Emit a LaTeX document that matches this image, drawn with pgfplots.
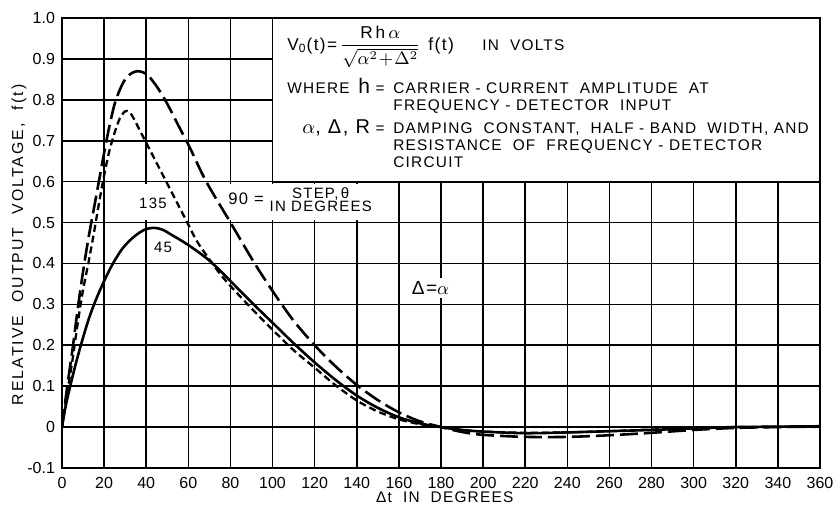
\documentclass[border=0pt]{standalone}
\usepackage{pgfplots}
\pgfplotsset{compat=1.18}
\usepackage{pgfplotstable}
\usepackage{fontspec}
\setmainfont{Liberation Sans}
\newfontfamily\lsp{Liberation Sans}[LetterSpace=8]
\newfontfamily\lspw{Liberation Sans}[LetterSpace=13]

\pgfplotstableread{
x y
0 0
2.5 0.1
5 0.19
7.5 0.29
10 0.38
12.5 0.46
15 0.53
17.5 0.6
20 0.67
22.5 0.735
25 0.79
27.5 0.825
30 0.85
33 0.865
36 0.87
39 0.866
42 0.853
46 0.825
50 0.79
55 0.74
61 0.68
68.5 0.6
80 0.5
91.5 0.4
101 0.325
110 0.26
120 0.2
130 0.148
140 0.103
150 0.066
160 0.036
170 0.014
180 0
190 -0.012
200 -0.019
220 -0.024
240 -0.024
260 -0.02
280 -0.014
300 -0.007
320 -0.002
340 0
360 0.001
}\curveNinety

\pgfplotstableread{
x y
0 0
2.5 0.085
5 0.165
7.5 0.255
10 0.335
12.5 0.40
15 0.47
17.5 0.545
20 0.615
22.5 0.675
25 0.72
27.5 0.755
30 0.772
32 0.77
34 0.755
37 0.725
40 0.695
45 0.645
50 0.595
55 0.545
59 0.505
64 0.455
70 0.41
75 0.375
80 0.345
90 0.29
100 0.238
110 0.188
120 0.145
130 0.102
140 0.065
150 0.038
160 0.019
170 0.007
180 0
190 -0.007
200 -0.011
220 -0.014
240 -0.013
260 -0.01
280 -0.006
300 -0.003
320 0
360 0.001
}\curveOneThirtyFive

\pgfplotstableread{
x y
0 0
1.5 0.045
3.2 0.085
6.3 0.15
9.5 0.21
12.7 0.264
16 0.31
20 0.357
24 0.398
28.5 0.435
33 0.46
37 0.476
40 0.484
44 0.487
48 0.482
52 0.47
56 0.458
60 0.445
65 0.427
70 0.407
75 0.383
80 0.357
90 0.305
100 0.255
110 0.205
120 0.158
130 0.115
140 0.077
150 0.047
160 0.024
170 0.009
180 0
190 -0.007
200 -0.011
220 -0.015
240 -0.013
260 -0.01
280 -0.007
300 -0.003
320 0
340 0.001
360 0.002
}\curveFortyFive

\begin{document}
\begin{tikzpicture}
\useasboundingbox (-31pt,-19pt) rectangle (387.5pt,234pt);
\begin{axis}[
  at={(0,0)}, anchor=south west,
  scale only axis, width=379pt, height=225pt,
  xmin=0, xmax=360, ymin=-0.1, ymax=1.0,
  xtick={0,20,...,360},
  ytick={-0.1,0,0.1,0.2,0.3,0.4,0.5,0.6,0.7,0.8,0.9,1.0},
  yticklabels={-0.1,0,0.1,0.2,0.3,0.4,0.5,0.6,0.7,0.8,0.9,1.0},
  grid=major,
  major grid style={black, line width=0.8pt},
  major tick length=0pt,
  axis line style={line width=1pt},
  /pgf/number format/assume math mode=true,
  tick label style={font=\fontsize{8}{9}\selectfont},
  xticklabel style={yshift=-1pt},
  xlabel={Δt\ \ IN\ \ DEGREES},
  xlabel style={font=\lsp\fontsize{7.7}{9}\selectfont, inner sep=0pt, at={(axis description cs:0.505,-0.0778)}, anchor=base},
  ylabel={RELATIVE\ \ OUTPUT\ \ VOLTAGE,\ \ f\,(t)},
  ylabel style={font=\lspw\fontsize{7.9}{9}\selectfont, inner sep=0pt, at={(axis description cs:-0.0567,0.496)}, anchor=center},
]
% white patches behind labels
\fill[white] (axis cs:76,0.505) rectangle (axis cs:157,0.595);
\fill[white] (axis cs:36.5,0.505) rectangle (axis cs:50,0.595);
% note box
\draw[line width=0.9pt, fill=white] (axis cs:100,0.6) rectangle (axis cs:360,1.0);

\addplot[black, line width=1.3pt, smooth, tension=0.5, dash pattern=on 9pt off 3pt] table {\curveNinety};
\addplot[black, line width=1.15pt, smooth, tension=0.5, dash pattern=on 3.5pt off 2pt] table {\curveOneThirtyFive};
\addplot[black, line width=1.3pt, smooth, tension=0.5] table {\curveFortyFive};

% box text
\begin{scope}[every node/.style={font=\lsp\fontsize{7.7}{9}\selectfont, inner sep=0pt}]
\node[anchor=base west, font=\lsp\fontsize{8.6}{10}\selectfont] at (axis cs:106.9,0.921) {V\textsubscript{0}(t)=\,$\displaystyle\frac{\mbox{R\,h}\,\alpha}{\sqrt{\alpha^{2}\!+\!\Delta^{2}}}$};
\node[anchor=base west, font=\lsp\fontsize{8.8}{10}\selectfont] at (axis cs:173.8,0.921) {f(t)};
\node[anchor=base west] at (axis cs:199.5,0.921) {IN\ \ VOLTS};
\node[anchor=base west] at (axis cs:106.9,0.816) {WHERE};
\node[anchor=base east] at (axis cs:153.4,0.816) {{\fontsize{10.5}{10}\selectfont h}\ =};
\node[anchor=base west] at (axis cs:157.2,0.816) {CARRIER - CURRENT\ \ AMPLITUDE\ \ AT};
\node[anchor=base west] at (axis cs:157.2,0.774) {FREQUENCY - DETECTOR\ \ INPUT};
\node[anchor=base east] at (axis cs:153.4,0.718) {{\fontsize{10}{10}\selectfont$\alpha$, Δ, R}\ =};
\node[anchor=base west] at (axis cs:157.2,0.718) {DAMPING\ \ CONSTANT,\ \ HALF - BAND\ \ WIDTH,\ AND};
\node[anchor=base west] at (axis cs:157.2,0.677) {RESISTANCE\ \ OF\ \ FREQUENCY - DETECTOR};
\node[anchor=base west] at (axis cs:157.2,0.635) {CIRCUIT};
% curve labels
\node[anchor=center, font=\lsp\fontsize{7.5}{9}\selectfont] at (axis cs:43.2,0.546) {135};
\node[anchor=center, font=\lsp\fontsize{7.5}{9}\selectfont] at (axis cs:48,0.439) {45};
\node[anchor=west, font=\lsp\fontsize{8.3}{9}\selectfont] at (axis cs:78.8,0.552) {90\ =\ \fontsize{7.5}{9}\selectfont\begin{tabular}{@{}c@{}}STEP,\,θ\\[-2.8pt] IN\ DEGREES\end{tabular}};
\node[anchor=center, fill=white, inner sep=1.5pt, font=\lsp\fontsize{9.5}{10}\selectfont] at (axis cs:175,0.34) {Δ=$\alpha$};
\end{scope}
\end{axis}
\end{tikzpicture}
\end{document}
